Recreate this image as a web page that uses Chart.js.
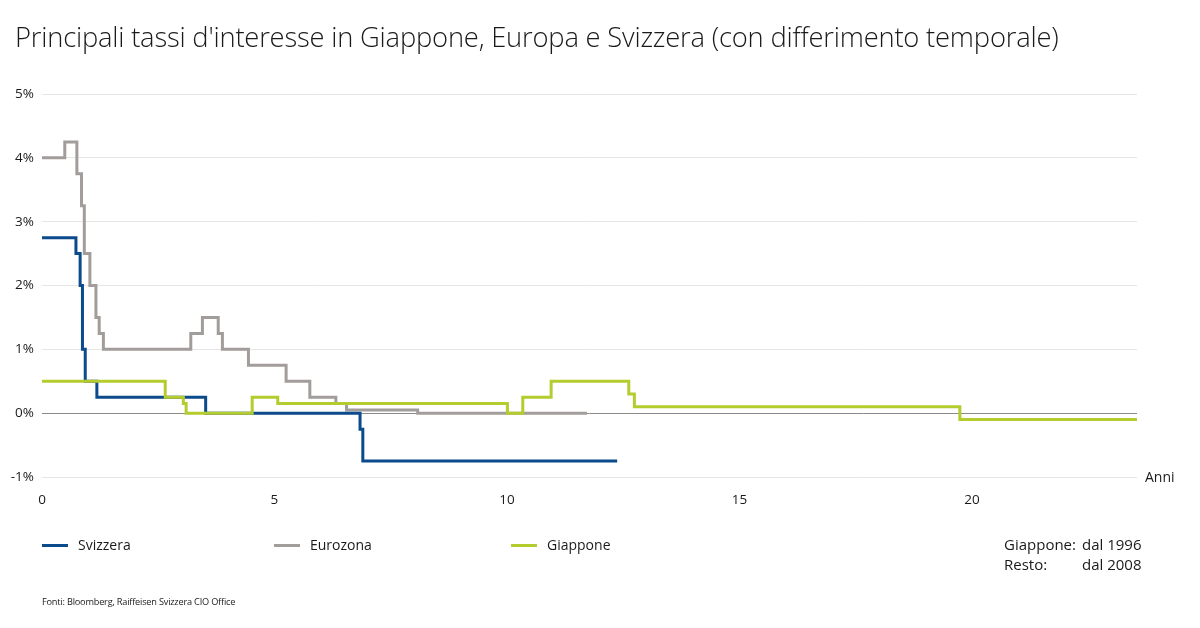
<!DOCTYPE html>
<html>
<head>
<meta charset="utf-8">
<script src="https://cdn.jsdelivr.net/npm/chart.js@4.4.1/dist/chart.umd.min.js"></script>
<style>
  html, body { margin: 0; padding: 0; background: #ffffff; }
  body { width: 1200px; height: 628px; position: relative; overflow: hidden; font-family: "Open Sans", "Noto Sans", sans-serif; color: #1a1a1a; }
  #wrap { position: absolute; left: 0; top: 0; width: 1200px; height: 628px; }
  .abs { position: absolute; white-space: nowrap; }
  #title { left: 15px; top: 18px; font-size: 27.35px; font-weight: 300; letter-spacing: -0.2px; }
  .leg { top: 535px; font-size: 14px; line-height: 20px; }
  .leg i { display: inline-block; width: 26px; height: 3px; vertical-align: middle; margin-right: 10px; position: relative; top: -1px; }
  #note { left: 1004px; top: 534px; font-size: 15px; line-height: 20px; }
  #note span { display: inline-block; width: 78px; }
  #src { left: 42px; top: 595px; font-size: 9.2px; letter-spacing: -0.2px; }
  #anni { left: 1145px; top: 467px; font-size: 14px; }
</style>
</head>
<body>
<div id="wrap"><canvas id="c" width="1200" height="628"></canvas></div>
<div class="abs" id="title">Principali tassi d'interesse in Giappone, Europa e Svizzera (con differimento temporale)</div>
<div class="abs leg" style="left:42px"><i style="background:#0b4a8b"></i>Svizzera</div>
<div class="abs leg" style="left:274px"><i style="background:#a29d9a"></i>Eurozona</div>
<div class="abs leg" style="left:511px"><i style="background:#b5cc2e"></i>Giappone</div>
<div class="abs" id="note"><span>Giappone:</span>dal 1996<br><span>Resto:</span>dal 2008</div>
<div class="abs" id="src">Fonti: Bloomberg, Raiffeisen Svizzera CIO Office</div>
<div class="abs" id="anni">Anni</div>
<script>
// Tick labels
const xTicks = [0, 5, 10, 15, 20];
const yTicks = [-1, 0, 1, 2, 3, 4, 5];
const xMax = 23.55;

// Svizzera (dal 2008): anni dal inizio, tasso in %
const svizzeraAnni  = [0, 0.73, 0.82, 0.87, 0.93, 1.18, 3.52, 6.84, 6.90, 12.37];
const svizzeraTassi = [2.75, 2.5, 2.0, 1.0, 0.5, 0.25, 0.0, -0.25, -0.75, -0.75];

// Eurozona (dal 2008)
const eurozonaAnni  = [0, 0.49, 0.75, 0.85, 0.91, 1.03, 1.16, 1.23, 1.32, 3.20, 3.45, 3.79, 3.88, 4.44, 5.25, 5.76, 6.32, 6.55, 8.08, 11.72];
const eurozonaTassi = [4.0, 4.25, 3.75, 3.25, 2.5, 2.0, 1.5, 1.25, 1.0, 1.25, 1.5, 1.25, 1.0, 0.75, 0.5, 0.25, 0.15, 0.05, 0.0, 0.0];

// Giappone (dal 1996)
const giapponeAnni  = [0, 2.65, 3.04, 3.10, 4.52, 5.07, 10.01, 10.34, 10.95, 12.62, 12.74, 19.74, 23.55];
const giapponeTassi = [0.5, 0.25, 0.15, 0.0, 0.25, 0.15, 0.0, 0.25, 0.5, 0.3, 0.1, -0.1, -0.1];

function pts(xs, ys) { return xs.map((x, i) => ({ x: x, y: ys[i] })); }

const common = { stepped: 'before', pointRadius: 0, pointHoverRadius: 0, borderWidth: 3, fill: false, borderCapStyle: 'butt', borderJoinStyle: 'miter' };

new Chart(document.getElementById('c'), {
  type: 'line',
  data: {
    datasets: [
      Object.assign({ label: 'Giappone', data: pts(giapponeAnni, giapponeTassi), borderColor: '#b5cc2e', order: 0 }, common),
      Object.assign({ label: 'Svizzera', data: pts(svizzeraAnni, svizzeraTassi), borderColor: '#0b4a8b', order: 1 }, common),
      Object.assign({ label: 'Eurozona', data: pts(eurozonaAnni, eurozonaTassi), borderColor: '#a29d9a', order: 2 }, common)
    ]
  },
  options: {
    responsive: false,
    animation: false,
    events: [],
    layout: { padding: { left: 0, right: 63, top: 94, bottom: 101 } },
    plugins: { legend: { display: false }, tooltip: { enabled: false }, title: { display: false } },
    scales: {
      x: {
        type: 'linear', min: 0, max: xMax,
        afterBuildTicks: s => { s.ticks = xTicks.map(v => ({ value: v })); },
        afterFit: s => { s.height = 50; },
        grid: { display: false },
        border: { display: false },
        ticks: { padding: 7, color: '#1a1a1a', font: { family: 'Open Sans', size: 13.5 }, maxRotation: 0 }
      },
      y: {
        min: -1, max: 5,
        afterBuildTicks: s => { s.ticks = yTicks.map(v => ({ value: v })); },
        afterFit: s => { s.width = 42; },
        grid: { drawTicks: false, lineWidth: 1, color: c => (c.tick && c.tick.value === 0) ? '#8a8a8a' : '#e6e6e6' },
        border: { display: false },
        ticks: { padding: 8, color: '#1a1a1a', font: { family: 'Open Sans', size: 13.5 }, callback: v => v + '%' }
      }
    }
  }
});
</script>
</body>
</html>
